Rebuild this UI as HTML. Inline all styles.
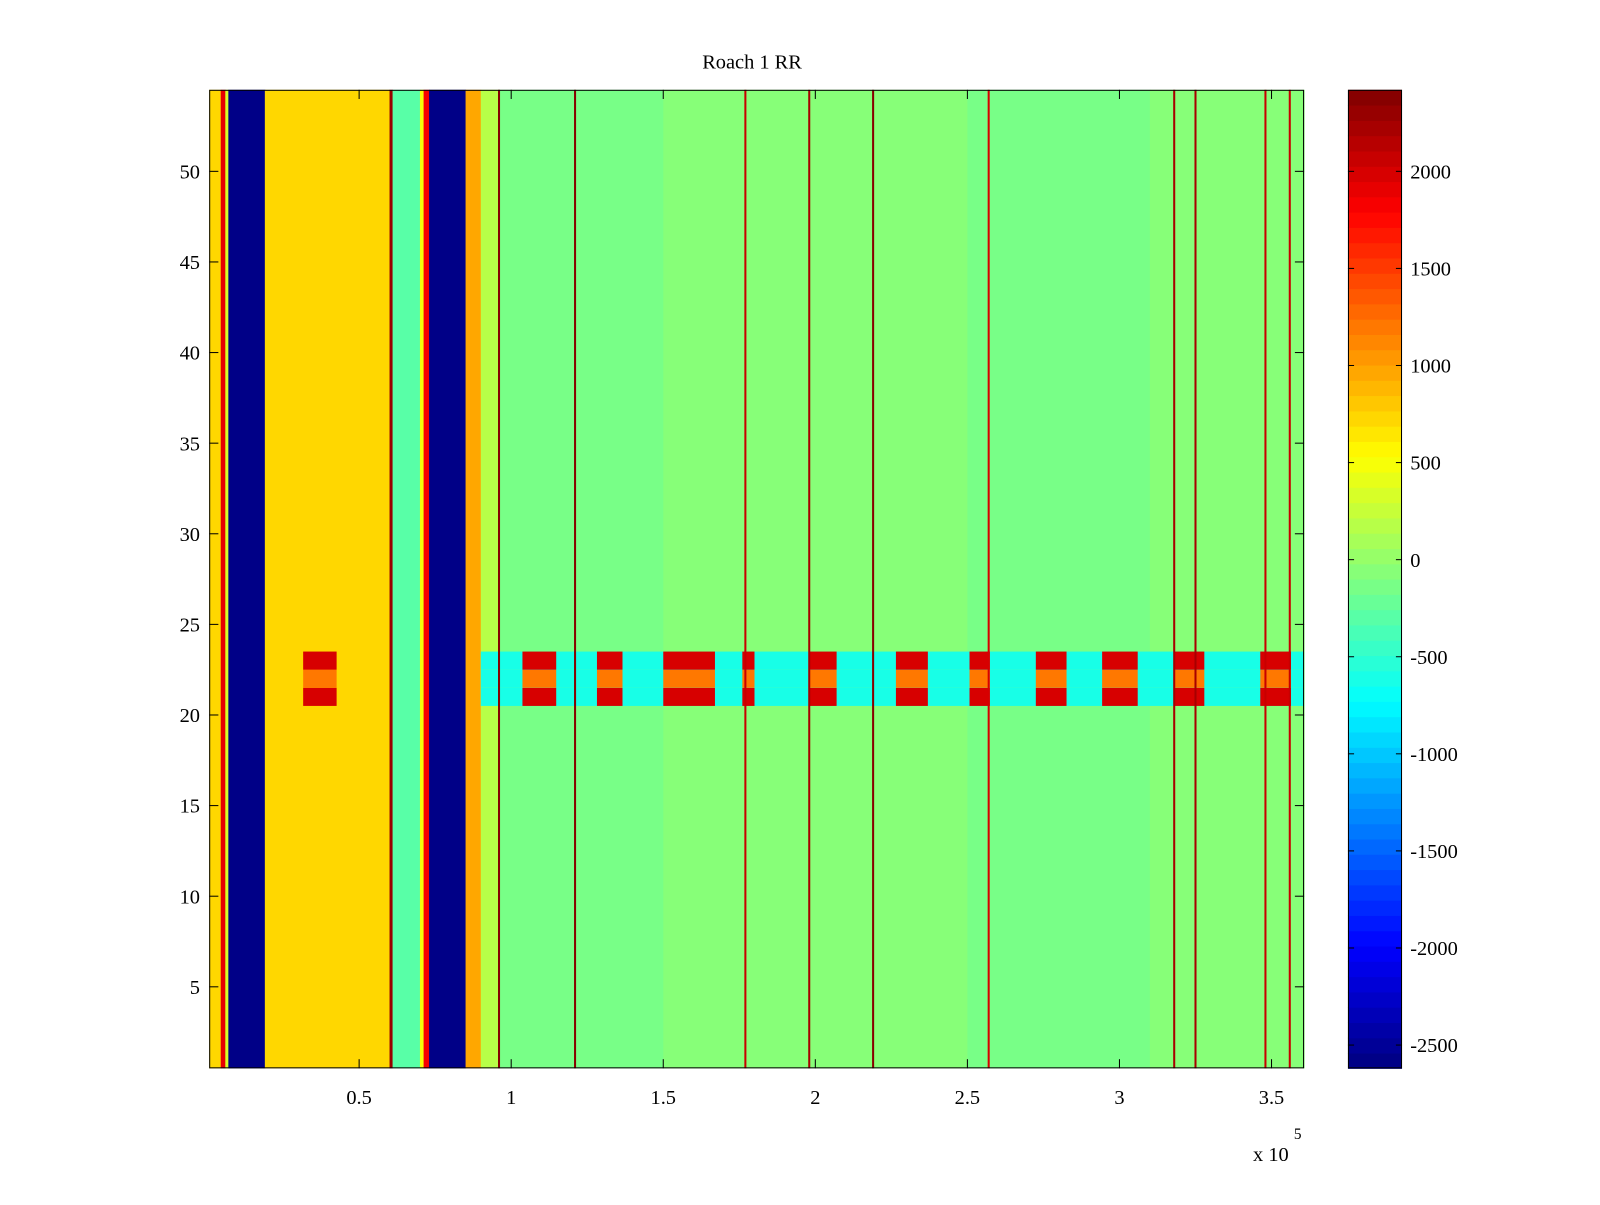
<!DOCTYPE html>
<html><head><meta charset="utf-8"><style>
body{margin:0;background:#fff;}
svg text{font-family:"Liberation Serif",serif;font-size:20px;fill:#000;}
</style></head><body>
<svg id="chart" width="1600" height="1200" viewBox="0 0 1600 1200" xmlns="http://www.w3.org/2000/svg">
<rect width="1600" height="1200" fill="#fff"/>
<g transform="scale(1.0204)">
<text x="737" y="67" text-anchor="middle">Roach 1 RR</text>
<g id="cells"></g>
<g id="axes"></g>
</g>
</svg>
<script>
// column segment starts (x in units of 1e5) and base values
const segStart = [0.007, 0.045, 0.06, 0.07, 0.19, 0.6, 0.61, 0.7, 0.712, 0.73, 0.85, 0.9, 0.96, 1.5, 2.5, 3.1];
const segValue = [700, 1900, 300, -2620, 700, 2300, -300, 500, 1800, -2620, 1000, 150, -150, -100, -150, -100];
// thin dark-red vertical lines (x in 1e5)
const lineX = [0.96, 1.21, 1.77, 1.98, 2.19, 2.57, 3.18, 3.25, 3.48, 3.56];
const lineValue = [2300, 2300, 1900, 2000, 2300, 1800, 2000, 2000, 1900, 1900];
// anomalous band rows (21-23): hot intervals
const bandRows = [21, 22, 23];
const bandBase = -600;
const hotStart = [0.316, 1.037, 1.282, 1.50, 1.76, 1.98, 2.265, 2.507, 2.725, 2.943, 3.178, 3.463];
const hotEnd   = [0.426, 1.148, 1.366, 1.67, 1.80, 2.07, 2.37, 2.574, 2.826, 3.06, 3.279, 3.564];
const xTicks = [0.5, 1, 1.5, 2, 2.5, 3, 3.5];
const xTickLabels = ["0.5", "1", "1.5", "2", "2.5", "3", "3.5"];
const yTicks = [5, 10, 15, 20, 25, 30, 35, 40, 45, 50];
const cTicks = [-2500, -2000, -1500, -1000, -500, 0, 500, 1000, 1500, 2000];
const nRows = 54, xMin = 0.007, xMax = 3.607, cMin = -2620, cMax = 2420;

const PL = 205, PR = 1278, PT = 88, PB = 1047;
const X = v => PL + (v - xMin) / (xMax - xMin) * (PR - PL);
const Y = v => PB - (v - 0.5) / nRows * (PB - PT);
const CB = {l: 1321, r: 1374};
const CY = v => PB - (v - cMin) / (cMax - cMin) * (PB - PT);
function jet(t){t=Math.max(0,Math.min(1,t));
 const f=x=>Math.max(0,Math.min(1,1.5-Math.abs(4*t-x)));
 return `rgb(${Math.round(255*f(3))},${Math.round(255*f(2))},${Math.round(255*f(1))})`;}
const col = v => { const n = Math.floor((v - cMin)/(cMax - cMin)*64); return jet((Math.min(63,Math.max(0,n))+0.5)/64); };
const NS = "http://www.w3.org/2000/svg";
const cells = document.getElementById('cells'), axes = document.getElementById('axes');
function rect(g,x,y,w,h,f){const r=document.createElementNS(NS,'rect');r.setAttribute('x',x);r.setAttribute('y',y);r.setAttribute('width',w);r.setAttribute('height',h);r.setAttribute('fill',f);g.appendChild(r);return r;}
for (let i = 0; i < segStart.length; i++) {
  const x0 = X(segStart[i]), x1 = X(i+1<segStart.length ? segStart[i+1] : xMax);
  const r = rect(cells, x0, PT, x1-x0+0.5, PB-PT, col(segValue[i]));
  
  
}
for (const row of bandRows) {
  const y0 = Y(row + 0.5), y1 = Y(row - 0.5);
  const b = rect(cells, X(0.9), y0, PR - X(0.9), y1-y0, col(bandBase));
  
  
  for (let k = 0; k < hotStart.length; k++) {
    const v = row === 22 ? 1200 : 2000;
    const h = rect(cells, X(hotStart[k]), y0, X(hotEnd[k]) - X(hotStart[k]), y1-y0, col(v));
    
    
  }
}
for (let i = 0; i < lineX.length; i++) {
  const l = rect(cells, X(lineX[i]) - 1, PT, 2, PB-PT, col(lineValue[i] + 200));
  
  
}
for (let n = 0; n < 64; n++) {
  const v0 = cMin + n/64*(cMax-cMin), v1 = cMin + (n+1)/64*(cMax-cMin);
  const c = rect(axes, CB.l, CY(v1), CB.r-CB.l, CY(v0)-CY(v1)+0.5, jet((n+0.5)/64));
  
  
}
function line(x1,y1,x2,y2){const l=document.createElementNS(NS,'line');l.setAttribute('x1',x1);l.setAttribute('y1',y1);l.setAttribute('x2',x2);l.setAttribute('y2',y2);l.setAttribute('stroke','#000');l.setAttribute('stroke-width','1');axes.appendChild(l);return l;}
function text(x,y,s,a){const t=document.createElementNS(NS,'text');t.setAttribute('x',x);t.setAttribute('y',y);t.setAttribute('text-anchor',a);t.textContent=s;axes.appendChild(t);return t;}
const fr = rect(axes, PL+0.5, PT+0.5, PR-PL-1, PB-PT-1, 'none');
fr.setAttribute('stroke','#000');


const cf = rect(axes, CB.l+0.5, PT+0.5, CB.r-CB.l-1, PB-PT-1, 'none');
cf.setAttribute('stroke','#000');


xTicks.forEach((v,i)=>{const x=X(v);line(x,PB,x,PB-9);line(x,PT,x,PT+9);
  const t=text(x,1082,xTickLabels[i],'middle');
  
  });
yTicks.forEach(v=>{const y=Y(v);line(PL,y,PL+9,y);line(PR,y,PR-9,y);
  const t=text(196,y+7,String(v),'end');
  
  });
cTicks.forEach(v=>{const y=CY(v);line(CB.l,y,CB.l+6,y);line(CB.r,y,CB.r-6,y);
  const t=text(1382,y+7,String(v),'start');
  
  });
const ex = text(1228,1138,'x 10','start');


const e5 = text(1268,1116,'5','start');
e5.setAttribute('style','font-size:15px');


</script>
</body></html>
